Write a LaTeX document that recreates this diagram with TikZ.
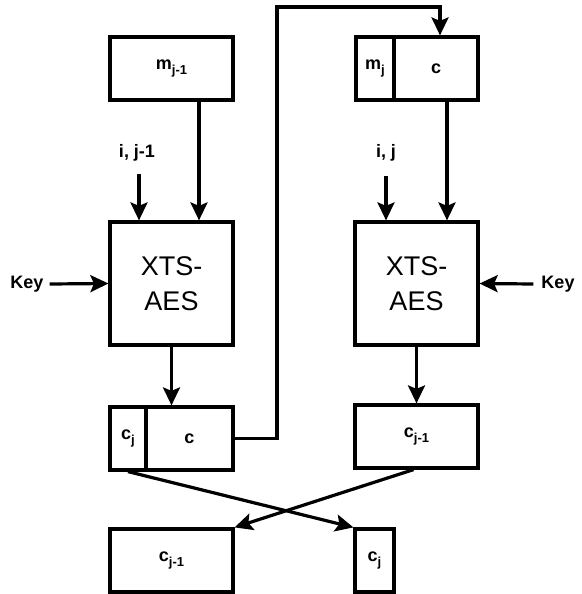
\documentclass[tikz,border=0pt]{standalone}
\usepackage{fontspec}
\setmainfont{Liberation Sans}
\usetikzlibrary{arrows.meta,calc}
\newcommand\sbx[1]{\raisebox{-0.45ex}{\fontsize{13}{15}\selectfont #1}}
\begin{document}
\begin{tikzpicture}[x=1pt,y=-1pt,
  box/.style={draw, line width=3.2pt, inner sep=0pt, font=\fontsize{18}{21}\selectfont\bfseries},
  arr/.style={line width=3.2pt, line join=miter, -{Stealth[length=18pt,width=17pt,inset=3.5pt]}},
  lbl/.style={font=\fontsize{18}{21}\selectfont\bfseries, inner sep=0pt},
  xts/.style={box, font=\fontsize{27}{35}\selectfont, align=center}]
\useasboundingbox (0,0) rectangle (581,594);
% left column
\node[box, minimum width=123pt, minimum height=63pt] (mjL) at (171.5,68.5) {m\sbx{j-1}};
\node[xts, minimum width=123pt, minimum height=123pt] (xtsL) at (171.5,283.5) {XTS-\\AES};
\node[box, minimum width=36pt, minimum height=63pt] (cjL) at (128,438.5) {c\sbx{j}};
\node[box, minimum width=87pt, minimum height=63pt] (cL) at (189.5,438.5) {c};
\node[box, minimum width=123pt, minimum height=63pt] (cj1B) at (171.5,560.5) {c\sbx{j-1}};
% right column
\node[box, minimum width=38pt, minimum height=63pt] (mjR) at (375,68.5) {m\sbx{j}};
\node[box, minimum width=84pt, minimum height=63pt] (cR) at (436,68.5) {c};
\node[xts, minimum width=123pt, minimum height=123pt] (xtsR) at (416.5,283.5) {XTS-\\AES};
\node[box, minimum width=123pt, minimum height=63pt] (cj1R) at (416.5,436.5) {c\sbx{j-1}};
\node[box, minimum width=39pt, minimum height=63pt] (cjB) at (374.5,560.5) {c\sbx{j}};
% labels
\node[lbl] (keyL) at (27,284) {Key};
\node[lbl] (keyR) at (558,284) {Key};
\node[lbl] (ijL) at (137,153) {i, j-1};
\node[lbl] (ijR) at (386,153) {i, j};
\coordinate (ijLs) at (139,174);
\coordinate (ijRs) at (386,176);
\coordinate (t1) at (277,7);
% connectors
\draw[arr] ([xshift=27.5pt]mjL.south) -- ([xshift=27.5pt]xtsL.north);
\draw[arr] (ijLs) -- (ijLs |- xtsL.north);
\draw[arr] ([xshift=6pt]keyL.east) -- (xtsL.west);
\draw[arr] (xtsL.south) -- (xtsL.south |- cL.north);
\draw[arr] (cL.east) -| (t1) -| ([xshift=4pt]cR.north);
\draw[arr] ([xshift=11pt]cR.south) -- ([xshift=30.5pt]xtsR.north);
\draw[arr] (ijRs) -- (ijRs |- xtsR.north);
\draw[arr] ([xshift=-8pt]keyR.west) -- (xtsR.east);
\draw[arr] (xtsR.south) -- (cj1R.north);
\draw[arr] (cjL.south) -- (cjB.north west);
\draw[arr] ([xshift=-3pt]cj1R.south) -- (cj1B.north east);
\end{tikzpicture}
\end{document}
